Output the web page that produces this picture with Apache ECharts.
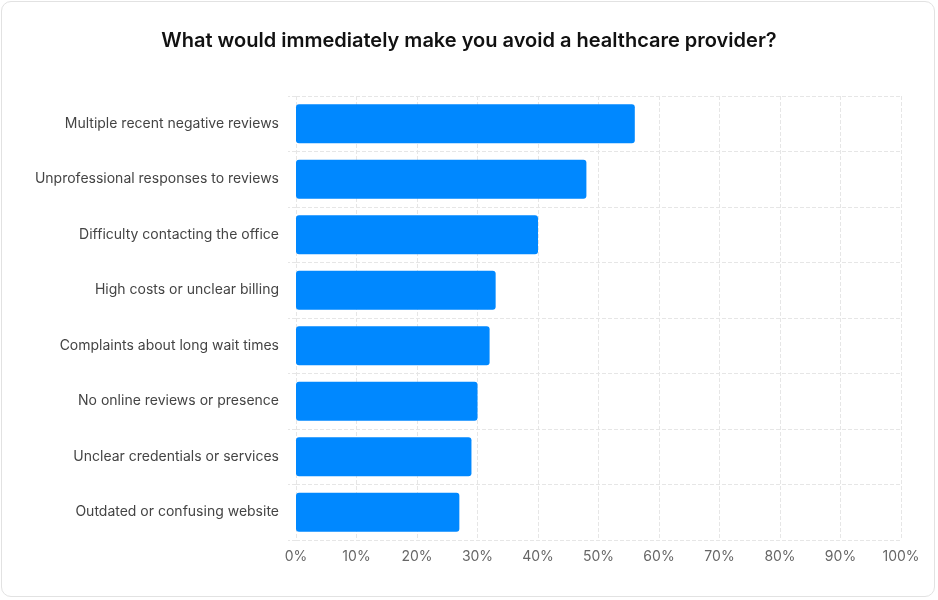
<!DOCTYPE html>
<html><head><meta charset="utf-8">
<script src="https://cdn.jsdelivr.net/npm/echarts@6/dist/echarts.min.js"></script>
<style>
html,body{margin:0;padding:0;background:#fff;}
#wrap{position:absolute;left:1px;top:1px;width:934px;height:596px;border:1px solid #e2e2e2;border-radius:10px;box-sizing:border-box;}
#chart{width:938px;height:600px;}
</style></head>
<body>
<div id="wrap"></div>
<div id="chart"></div>
<script>
var categories = [
  "Multiple recent negative reviews",
  "Unprofessional responses to reviews",
  "Difficulty contacting the office",
  "High costs or unclear billing",
  "Complaints about long wait times",
  "No online reviews or presence",
  "Unclear credentials or services",
  "Outdated or confusing website"
];
var values = [56, 48, 40, 33, 32, 30, 29, 27];

var chart = echarts.init(document.getElementById("chart"));
chart.setOption({
  animation: false,
  textStyle: { fontFamily: "Inter" },
  title: {
    text: "What would immediately make you avoid a healthcare provider?",
    left: "center",
    top: 26,
    textStyle: { fontFamily: "Inter", fontSize: 20, fontWeight: 600, color: "#111" }
  },
  grid: { left: 296, right: 37, top: 96, bottom: 60 },
  xAxis: {
    type: "value",
    min: 0, max: 100, interval: 10,
    axisLabel: { formatter: "{value}%", color: "#666", fontSize: 14, margin: 10 },
    axisLine: { show: false },
    axisTick: { show: false },
    splitLine: { show: true, lineStyle: { type: "dashed", color: "#e6e6e6" } }
  },
  yAxis: {
    type: "category",
    inverse: true,
    data: categories,
    axisLabel: { color: "#444", fontSize: 14, margin: 17 },
    axisLine: { show: false },
    axisTick: { show: true, length: 8, lineStyle: { type: "dashed", color: "#e6e6e6" } },
    splitLine: { show: true, lineStyle: { type: "dashed", color: "#e6e6e6" } }
  },
  series: [{
    type: "bar",
    data: values,
    barWidth: "70%",
    itemStyle: { color: "#0088ff", borderRadius: 3 }
  }]
});
</script>
</body></html>
